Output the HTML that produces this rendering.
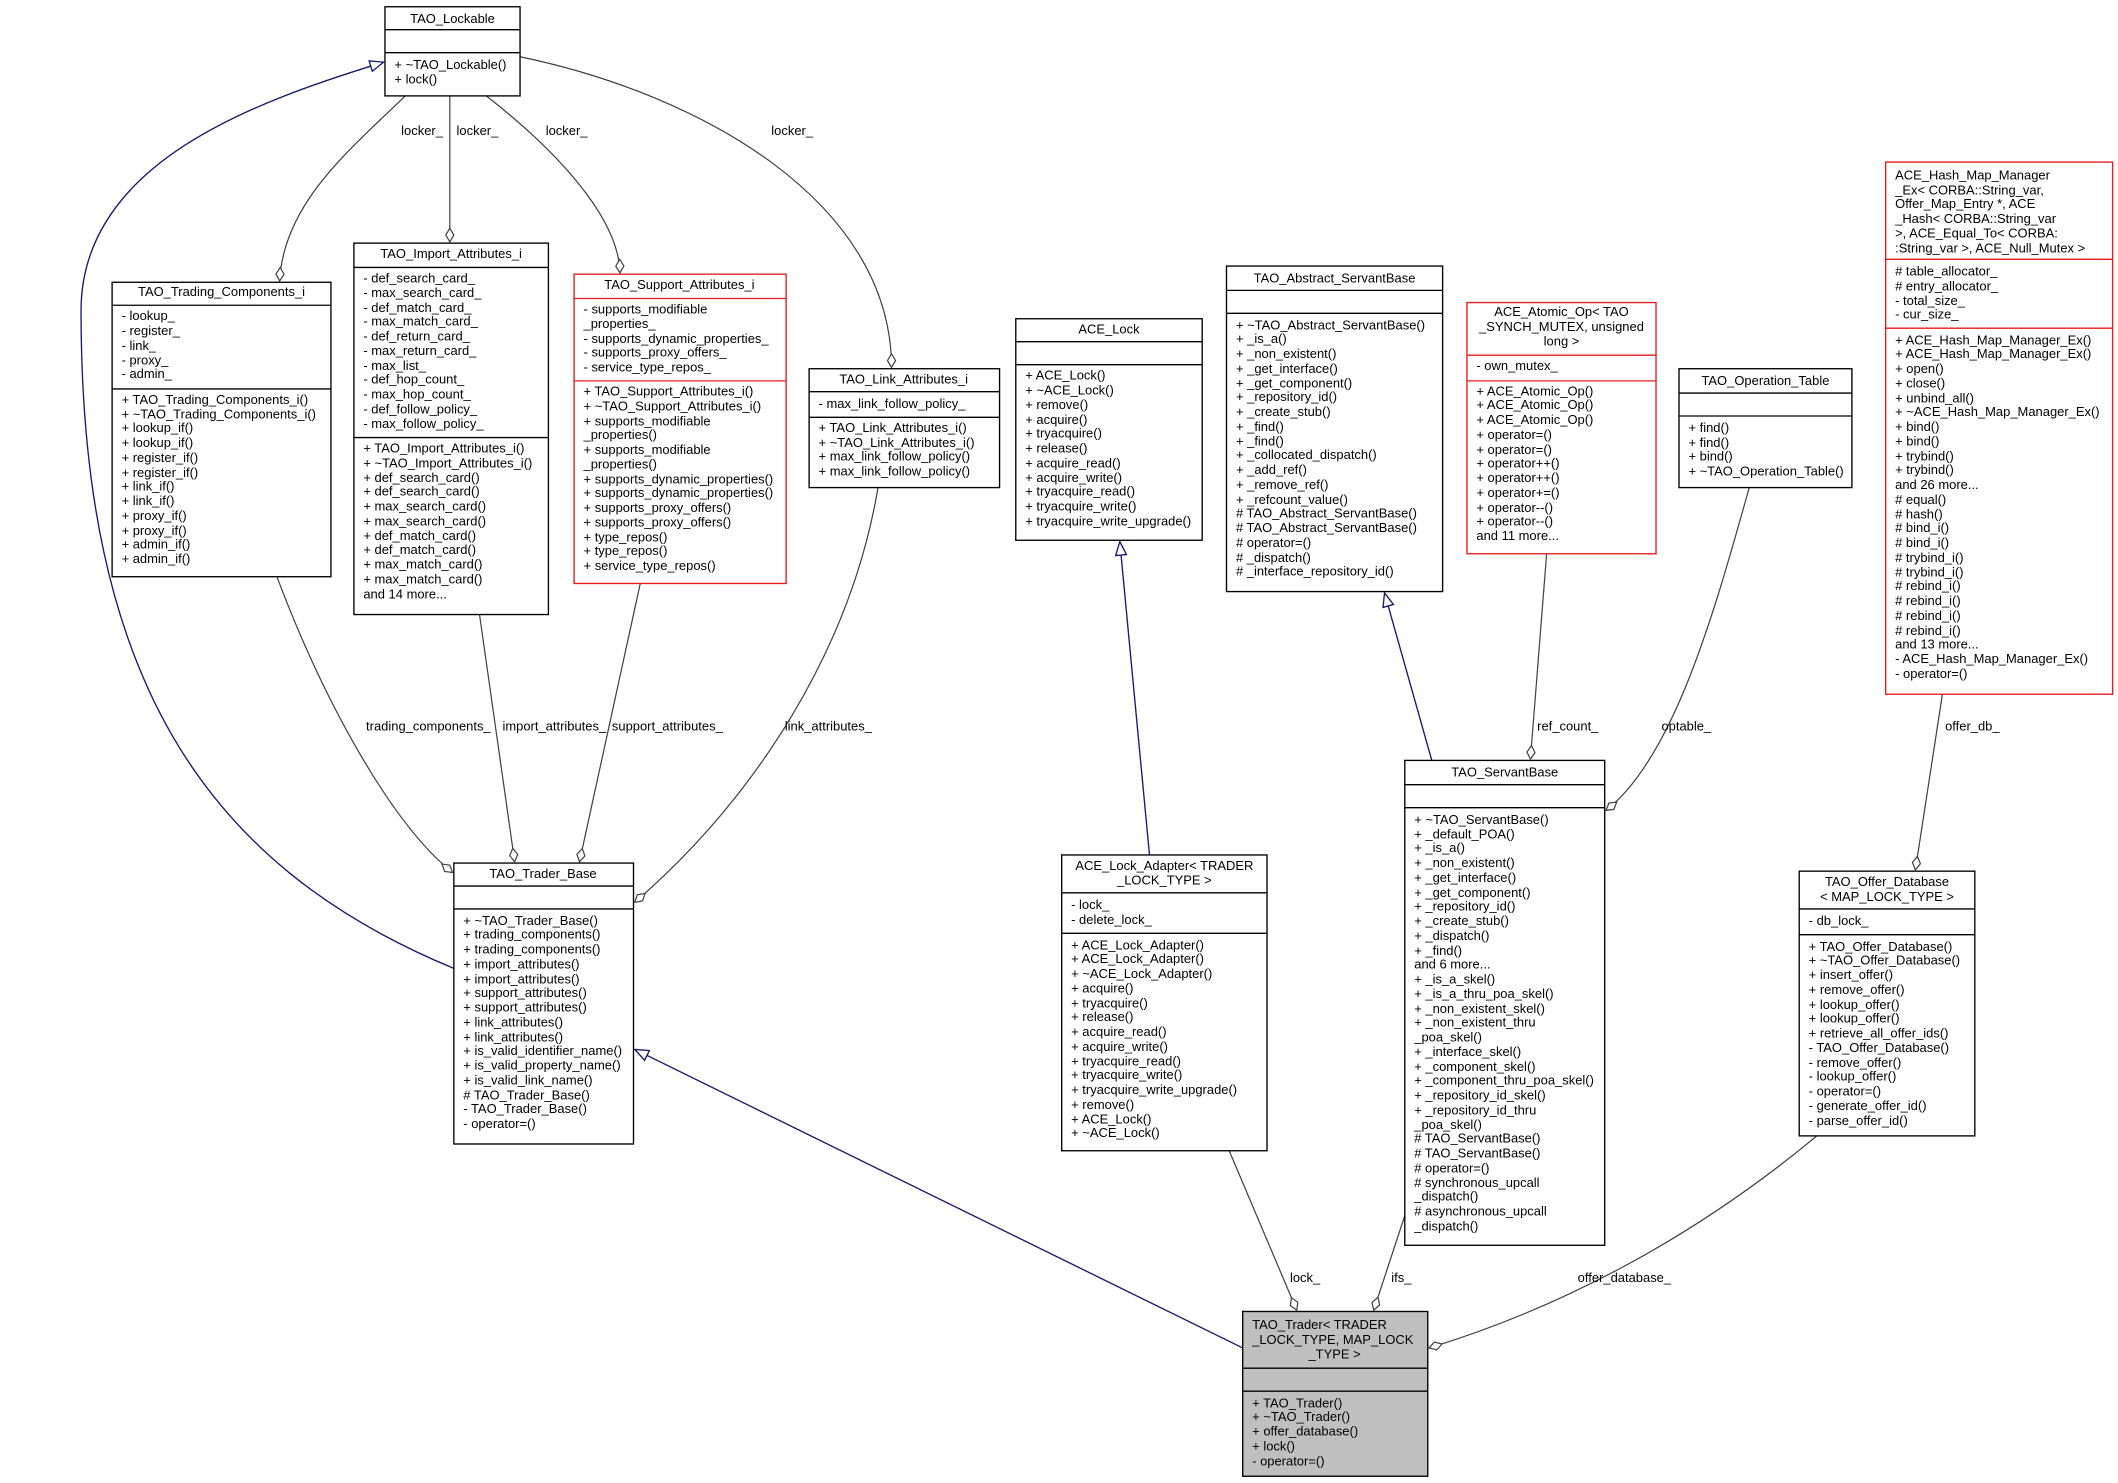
<!DOCTYPE html>
<html><head><meta charset="utf-8"><style>
html,body{margin:0;padding:0;background:#fff}
svg{display:block}
text{font-family:"Liberation Sans",Arial,sans-serif;font-size:9.6px;fill:#000}
.c{text-anchor:middle}
.b{fill:#fff;stroke:#000;stroke-width:1}
.r{fill:#fff;stroke:#e8191c;stroke-width:1}
.g{fill:#bfbfbf;stroke:#000;stroke-width:1}
.l{stroke:#000;stroke-width:1}
.lr{stroke:#e8191c;stroke-width:1}
.e{fill:none;stroke:#404040;stroke-width:0.9}
.n{fill:none;stroke:#191970;stroke-width:1}
</style></head><body>
<svg width="2118" height="1483" viewBox="0 0 1568 1098" preserveAspectRatio="none" xmlns="http://www.w3.org/2000/svg">
<defs>
<marker id="d" markerUnits="userSpaceOnUse" markerWidth="12" markerHeight="8" refX="11" refY="4" orient="auto"><path d="M1,4 L6,1 L11,4 L6,7 Z" fill="#fff" stroke="#404040" stroke-width="0.9"/></marker>
<marker id="t" markerUnits="userSpaceOnUse" markerWidth="12" markerHeight="10" refX="11" refY="5" orient="auto"><path d="M1,1 L11,5 L1,9 Z" fill="#fff" stroke="#191970" stroke-width="1"/></marker>
</defs>

<!-- edges -->
<path class="n" d="M336,717 C150,640 60,500 60,230 C60,120 190,75 284,46" marker-end="url(#t)"/>
<path class="n" d="M920,998 L470,777" marker-end="url(#t)"/>
<path class="n" d="M851,633 L829,401" marker-end="url(#t)"/>
<path class="n" d="M1060,563 L1025,439" marker-end="url(#t)"/>

<path class="e" d="M300,71 C260,110 210,150 207,208" marker-end="url(#d)"/>
<path class="e" d="M333,71 L333,179" marker-end="url(#d)"/>
<path class="e" d="M360,71 C410,110 458,160 459,202" marker-end="url(#d)"/>
<path class="e" d="M385,42 C520,70 660,150 660,272" marker-end="url(#d)"/>
<path class="e" d="M205,427 C240,520 290,610 335,646" marker-end="url(#d)"/>
<path class="e" d="M355,455 L381,638" marker-end="url(#d)"/>
<path class="e" d="M474,432 L429,638" marker-end="url(#d)"/>
<path class="e" d="M650,361 C630,480 560,590 470,668" marker-end="url(#d)"/>
<path class="e" d="M910,852 L960,970" marker-end="url(#d)"/>
<path class="e" d="M1040,900 L1017,970" marker-end="url(#d)"/>
<path class="e" d="M1345,841 C1250,920 1150,970 1058,998" marker-end="url(#d)"/>
<path class="e" d="M1145,410 L1133,562" marker-end="url(#d)"/>
<path class="e" d="M1295,361 C1270,450 1240,560 1189,600" marker-end="url(#d)"/>
<path class="e" d="M1438,514 L1418,644" marker-end="url(#d)"/>

<text x="297" y="100">locker_</text>
<text x="338" y="100">locker_</text>
<text x="404" y="100">locker_</text>
<text x="571" y="100">locker_</text>
<text x="271" y="541">trading_components_</text>
<text x="372" y="541">import_attributes_</text>
<text x="453" y="541">support_attributes_</text>
<text x="581" y="541">link_attributes_</text>
<text x="955" y="949">lock_</text>
<text x="1030" y="949">ifs_</text>
<text x="1168" y="949">offer_database_</text>
<text x="1138" y="541">ref_count_</text>
<text x="1230" y="541">optable_</text>
<text x="1440" y="541">offer_db_</text>

<!-- TAO_Lockable -->
<rect class="b" x="285" y="5" width="100" height="66"/>
<line class="l" x1="285" y1="22" x2="385" y2="22"/><line class="l" x1="285" y1="39" x2="385" y2="39"/>
<text class="c" x="335" y="17">TAO_Lockable</text>
<text x="292" y="51">+ ~TAO_Lockable()</text><text x="292" y="62">+ lock()</text>

<!-- TAO_Trading_Components_i -->
<rect class="b" x="83" y="209" width="162" height="218"/>
<line class="l" x1="83" y1="226" x2="245" y2="226"/><line class="l" x1="83" y1="288" x2="245" y2="288"/>
<text class="c" x="164" y="219">TAO_Trading_Components_i</text>
<text x="90" y="237">- lookup_</text><text x="90" y="248">- register_</text><text x="90" y="259">- link_</text><text x="90" y="270">- proxy_</text><text x="90" y="280">- admin_</text>
<text x="90" y="299">+ TAO_Trading_Components_i()</text>
<text x="90" y="310">+ ~TAO_Trading_Components_i()</text>
<text x="90" y="320">+ lookup_if()</text><text x="90" y="331">+ lookup_if()</text>
<text x="90" y="342">+ register_if()</text><text x="90" y="353">+ register_if()</text>
<text x="90" y="363">+ link_if()</text><text x="90" y="374">+ link_if()</text>
<text x="90" y="385">+ proxy_if()</text><text x="90" y="396">+ proxy_if()</text>
<text x="90" y="406">+ admin_if()</text><text x="90" y="417">+ admin_if()</text>

<!-- TAO_Import_Attributes_i -->
<rect class="b" x="262" y="180" width="144" height="275"/>
<line class="l" x1="262" y1="198" x2="406" y2="198"/><line class="l" x1="262" y1="324" x2="406" y2="324"/>
<text class="c" x="334" y="191">TAO_Import_Attributes_i</text>
<text x="269" y="209">- def_search_card_</text><text x="269" y="220">- max_search_card_</text>
<text x="269" y="231">- def_match_card_</text><text x="269" y="241">- max_match_card_</text>
<text x="269" y="252">- def_return_card_</text><text x="269" y="263">- max_return_card_</text>
<text x="269" y="274">- max_list_</text><text x="269" y="284">- def_hop_count_</text>
<text x="269" y="295">- max_hop_count_</text><text x="269" y="306">- def_follow_policy_</text>
<text x="269" y="317">- max_follow_policy_</text>
<text x="269" y="335">+ TAO_Import_Attributes_i()</text>
<text x="269" y="346">+ ~TAO_Import_Attributes_i()</text>
<text x="269" y="357">+ def_search_card()</text><text x="269" y="367">+ def_search_card()</text>
<text x="269" y="378">+ max_search_card()</text><text x="269" y="389">+ max_search_card()</text>
<text x="269" y="400">+ def_match_card()</text><text x="269" y="410">+ def_match_card()</text>
<text x="269" y="421">+ max_match_card()</text><text x="269" y="432">+ max_match_card()</text>
<text x="269" y="443">and 14 more...</text>

<!-- TAO_Support_Attributes_i -->
<rect class="r" x="425" y="203" width="157" height="229"/>
<line class="lr" x1="425" y1="221" x2="582" y2="221"/><line class="lr" x1="425" y1="282" x2="582" y2="282"/>
<text class="c" x="503" y="214">TAO_Support_Attributes_i</text>
<text x="432" y="232">- supports_modifiable</text><text x="432" y="243">_properties_</text>
<text x="432" y="254">- supports_dynamic_properties_</text><text x="432" y="264">- supports_proxy_offers_</text>
<text x="432" y="275">- service_type_repos_</text>
<text x="432" y="293">+ TAO_Support_Attributes_i()</text>
<text x="432" y="304">+ ~TAO_Support_Attributes_i()</text>
<text x="432" y="315">+ supports_modifiable</text><text x="432" y="325">_properties()</text>
<text x="432" y="336">+ supports_modifiable</text><text x="432" y="347">_properties()</text>
<text x="432" y="358">+ supports_dynamic_properties()</text><text x="432" y="368">+ supports_dynamic_properties()</text>
<text x="432" y="379">+ supports_proxy_offers()</text><text x="432" y="390">+ supports_proxy_offers()</text>
<text x="432" y="401">+ type_repos()</text><text x="432" y="411">+ type_repos()</text>
<text x="432" y="422">+ service_type_repos()</text>

<!-- TAO_Link_Attributes_i -->
<rect class="b" x="599" y="273" width="141" height="88"/>
<line class="l" x1="599" y1="290" x2="740" y2="290"/><line class="l" x1="599" y1="309" x2="740" y2="309"/>
<text class="c" x="669" y="284">TAO_Link_Attributes_i</text>
<text x="606" y="302">- max_link_follow_policy_</text>
<text x="606" y="320">+ TAO_Link_Attributes_i()</text><text x="606" y="331">+ ~TAO_Link_Attributes_i()</text>
<text x="606" y="341">+ max_link_follow_policy()</text><text x="606" y="352">+ max_link_follow_policy()</text>

<!-- ACE_Lock -->
<rect class="b" x="752" y="236" width="138" height="164"/>
<line class="l" x1="752" y1="253" x2="890" y2="253"/><line class="l" x1="752" y1="270" x2="890" y2="270"/>
<text class="c" x="821" y="247">ACE_Lock</text>
<text x="759" y="281">+ ACE_Lock()</text><text x="759" y="292">+ ~ACE_Lock()</text><text x="759" y="303">+ remove()</text>
<text x="759" y="314">+ acquire()</text><text x="759" y="324">+ tryacquire()</text><text x="759" y="335">+ release()</text>
<text x="759" y="346">+ acquire_read()</text><text x="759" y="357">+ acquire_write()</text><text x="759" y="367">+ tryacquire_read()</text>
<text x="759" y="378">+ tryacquire_write()</text><text x="759" y="389">+ tryacquire_write_upgrade()</text>

<!-- TAO_Abstract_ServantBase -->
<rect class="b" x="908" y="197" width="160" height="241"/>
<line class="l" x1="908" y1="215" x2="1068" y2="215"/><line class="l" x1="908" y1="232" x2="1068" y2="232"/>
<text class="c" x="988" y="209">TAO_Abstract_ServantBase</text>
<text x="915" y="244">+ ~TAO_Abstract_ServantBase()</text><text x="915" y="254">+ _is_a()</text>
<text x="915" y="265">+ _non_existent()</text><text x="915" y="276">+ _get_interface()</text>
<text x="915" y="287">+ _get_component()</text><text x="915" y="297">+ _repository_id()</text>
<text x="915" y="308">+ _create_stub()</text><text x="915" y="319">+ _find()</text><text x="915" y="330">+ _find()</text>
<text x="915" y="340">+ _collocated_dispatch()</text><text x="915" y="351">+ _add_ref()</text>
<text x="915" y="362">+ _remove_ref()</text><text x="915" y="373">+ _refcount_value()</text>
<text x="915" y="383"># TAO_Abstract_ServantBase()</text><text x="915" y="394"># TAO_Abstract_ServantBase()</text>
<text x="915" y="405"># operator=()</text><text x="915" y="416"># _dispatch()</text><text x="915" y="426"># _interface_repository_id()</text>

<!-- ACE_Atomic_Op -->
<rect class="r" x="1086" y="224" width="140" height="186"/>
<line class="lr" x1="1086" y1="263" x2="1226" y2="263"/><line class="lr" x1="1086" y1="282" x2="1226" y2="282"/>
<text class="c" x="1156" y="234">ACE_Atomic_Op&lt; TAO</text><text class="c" x="1156" y="245">_SYNCH_MUTEX, unsigned</text><text class="c" x="1156" y="256">long &gt;</text>
<text x="1093" y="274">- own_mutex_</text>
<text x="1093" y="293">+ ACE_Atomic_Op()</text><text x="1093" y="303">+ ACE_Atomic_Op()</text><text x="1093" y="314">+ ACE_Atomic_Op()</text>
<text x="1093" y="325">+ operator=()</text><text x="1093" y="336">+ operator=()</text><text x="1093" y="346">+ operator++()</text>
<text x="1093" y="357">+ operator++()</text><text x="1093" y="368">+ operator+=()</text><text x="1093" y="379">+ operator--()</text>
<text x="1093" y="389">+ operator--()</text><text x="1093" y="400">and 11 more...</text>

<!-- TAO_Operation_Table -->
<rect class="b" x="1243" y="273" width="128" height="88"/>
<line class="l" x1="1243" y1="291" x2="1371" y2="291"/><line class="l" x1="1243" y1="308" x2="1371" y2="308"/>
<text class="c" x="1307" y="285">TAO_Operation_Table</text>
<text x="1250" y="320">+ find()</text><text x="1250" y="331">+ find()</text><text x="1250" y="341">+ bind()</text><text x="1250" y="352">+ ~TAO_Operation_Table()</text>

<!-- ACE_Hash_Map_Manager_Ex -->
<rect class="r" x="1396" y="120" width="168" height="394"/>
<line class="lr" x1="1396" y1="192" x2="1564" y2="192"/><line class="lr" x1="1396" y1="243" x2="1564" y2="243"/>
<text x="1403" y="133">ACE_Hash_Map_Manager</text><text x="1403" y="144">_Ex&lt; CORBA::String_var,</text>
<text x="1403" y="154"> Offer_Map_Entry *, ACE</text><text x="1403" y="165">_Hash&lt; CORBA::String_var</text>
<text x="1403" y="176"> &gt;, ACE_Equal_To&lt; CORBA:</text><text x="1403" y="187"> :String_var &gt;, ACE_Null_Mutex &gt;</text>
<text x="1403" y="204"># table_allocator_</text><text x="1403" y="215"># entry_allocator_</text>
<text x="1403" y="226">- total_size_</text><text x="1403" y="236">- cur_size_</text>
<text x="1403" y="255">+ ACE_Hash_Map_Manager_Ex()</text><text x="1403" y="265">+ ACE_Hash_Map_Manager_Ex()</text>
<text x="1403" y="276">+ open()</text><text x="1403" y="287">+ close()</text><text x="1403" y="298">+ unbind_all()</text>
<text x="1403" y="308">+ ~ACE_Hash_Map_Manager_Ex()</text><text x="1403" y="319">+ bind()</text><text x="1403" y="330">+ bind()</text>
<text x="1403" y="341">+ trybind()</text><text x="1403" y="351">+ trybind()</text><text x="1403" y="362">and 26 more...</text>
<text x="1403" y="373"># equal()</text><text x="1403" y="384"># hash()</text><text x="1403" y="394"># bind_i()</text>
<text x="1403" y="405"># bind_i()</text><text x="1403" y="416"># trybind_i()</text><text x="1403" y="427"># trybind_i()</text>
<text x="1403" y="437"># rebind_i()</text><text x="1403" y="448"># rebind_i()</text><text x="1403" y="459"># rebind_i()</text>
<text x="1403" y="470"># rebind_i()</text><text x="1403" y="480">and 13 more...</text>
<text x="1403" y="491">- ACE_Hash_Map_Manager_Ex()</text><text x="1403" y="502">- operator=()</text>

<!-- TAO_Trader_Base -->
<rect class="b" x="336" y="639" width="133" height="208"/>
<line class="l" x1="336" y1="656" x2="469" y2="656"/><line class="l" x1="336" y1="673" x2="469" y2="673"/>
<text class="c" x="402" y="650">TAO_Trader_Base</text>
<text x="343" y="685">+ ~TAO_Trader_Base()</text><text x="343" y="695">+ trading_components()</text>
<text x="343" y="706">+ trading_components()</text><text x="343" y="717">+ import_attributes()</text>
<text x="343" y="728">+ import_attributes()</text><text x="343" y="738">+ support_attributes()</text>
<text x="343" y="749">+ support_attributes()</text><text x="343" y="760">+ link_attributes()</text>
<text x="343" y="771">+ link_attributes()</text><text x="343" y="781">+ is_valid_identifier_name()</text>
<text x="343" y="792">+ is_valid_property_name()</text><text x="343" y="803">+ is_valid_link_name()</text>
<text x="343" y="814"># TAO_Trader_Base()</text><text x="343" y="824">- TAO_Trader_Base()</text>
<text x="343" y="835">- operator=()</text>

<!-- ACE_Lock_Adapter -->
<rect class="b" x="786" y="633" width="152" height="219"/>
<line class="l" x1="786" y1="661" x2="938" y2="661"/><line class="l" x1="786" y1="691" x2="938" y2="691"/>
<text class="c" x="862" y="644">ACE_Lock_Adapter&lt; TRADER</text><text class="c" x="862" y="655">_LOCK_TYPE &gt;</text>
<text x="793" y="673">- lock_</text><text x="793" y="684">- delete_lock_</text>
<text x="793" y="703">+ ACE_Lock_Adapter()</text><text x="793" y="713">+ ACE_Lock_Adapter()</text>
<text x="793" y="724">+ ~ACE_Lock_Adapter()</text><text x="793" y="735">+ acquire()</text>
<text x="793" y="746">+ tryacquire()</text><text x="793" y="756">+ release()</text>
<text x="793" y="767">+ acquire_read()</text><text x="793" y="778">+ acquire_write()</text>
<text x="793" y="789">+ tryacquire_read()</text><text x="793" y="799">+ tryacquire_write()</text>
<text x="793" y="810">+ tryacquire_write_upgrade()</text><text x="793" y="821">+ remove()</text>
<text x="793" y="832">+ ACE_Lock()</text><text x="793" y="842">+ ~ACE_Lock()</text>

<!-- TAO_ServantBase -->
<rect class="b" x="1040" y="563" width="148" height="359"/>
<line class="l" x1="1040" y1="581" x2="1188" y2="581"/><line class="l" x1="1040" y1="598" x2="1188" y2="598"/>
<text class="c" x="1114" y="575">TAO_ServantBase</text>
<text x="1047" y="610">+ ~TAO_ServantBase()</text><text x="1047" y="621">+ _default_POA()</text>
<text x="1047" y="631">+ _is_a()</text><text x="1047" y="642">+ _non_existent()</text>
<text x="1047" y="653">+ _get_interface()</text><text x="1047" y="664">+ _get_component()</text>
<text x="1047" y="674">+ _repository_id()</text><text x="1047" y="685">+ _create_stub()</text>
<text x="1047" y="696">+ _dispatch()</text><text x="1047" y="707">+ _find()</text>
<text x="1047" y="717">and 6 more...</text><text x="1047" y="728">+ _is_a_skel()</text>
<text x="1047" y="739">+ _is_a_thru_poa_skel()</text><text x="1047" y="750">+ _non_existent_skel()</text>
<text x="1047" y="760">+ _non_existent_thru</text><text x="1047" y="771">_poa_skel()</text>
<text x="1047" y="782">+ _interface_skel()</text><text x="1047" y="793">+ _component_skel()</text>
<text x="1047" y="803">+ _component_thru_poa_skel()</text><text x="1047" y="814">+ _repository_id_skel()</text>
<text x="1047" y="825">+ _repository_id_thru</text><text x="1047" y="836">_poa_skel()</text>
<text x="1047" y="846"># TAO_ServantBase()</text><text x="1047" y="857"># TAO_ServantBase()</text>
<text x="1047" y="868"># operator=()</text><text x="1047" y="879"># synchronous_upcall</text>
<text x="1047" y="889">_dispatch()</text><text x="1047" y="900"># asynchronous_upcall</text>
<text x="1047" y="911">_dispatch()</text>

<!-- TAO_Offer_Database -->
<rect class="b" x="1332" y="645" width="130" height="196"/>
<line class="l" x1="1332" y1="673" x2="1462" y2="673"/><line class="l" x1="1332" y1="692" x2="1462" y2="692"/>
<text class="c" x="1397" y="656">TAO_Offer_Database</text><text class="c" x="1397" y="667">&lt; MAP_LOCK_TYPE &gt;</text>
<text x="1339" y="685">- db_lock_</text>
<text x="1339" y="704">+ TAO_Offer_Database()</text><text x="1339" y="714">+ ~TAO_Offer_Database()</text>
<text x="1339" y="725">+ insert_offer()</text><text x="1339" y="736">+ remove_offer()</text>
<text x="1339" y="747">+ lookup_offer()</text><text x="1339" y="757">+ lookup_offer()</text>
<text x="1339" y="768">+ retrieve_all_offer_ids()</text><text x="1339" y="779">- TAO_Offer_Database()</text>
<text x="1339" y="790">- remove_offer()</text><text x="1339" y="800">- lookup_offer()</text>
<text x="1339" y="811">- operator=()</text><text x="1339" y="822">- generate_offer_id()</text>
<text x="1339" y="833">- parse_offer_id()</text>

<!-- TAO_Trader -->
<rect class="g" x="920" y="971" width="137" height="122"/>
<line class="l" x1="920" y1="1013" x2="1057" y2="1013"/><line class="l" x1="920" y1="1030" x2="1057" y2="1030"/>
<text x="927" y="984">TAO_Trader&lt; TRADER</text><text x="927" y="995">_LOCK_TYPE, MAP_LOCK</text><text class="c" x="988" y="1006">_TYPE &gt;</text>
<text x="927" y="1042">+ TAO_Trader()</text><text x="927" y="1052">+ ~TAO_Trader()</text>
<text x="927" y="1063">+ offer_database()</text><text x="927" y="1074">+ lock()</text><text x="927" y="1085">- operator=()</text>
</svg>
</body></html>
